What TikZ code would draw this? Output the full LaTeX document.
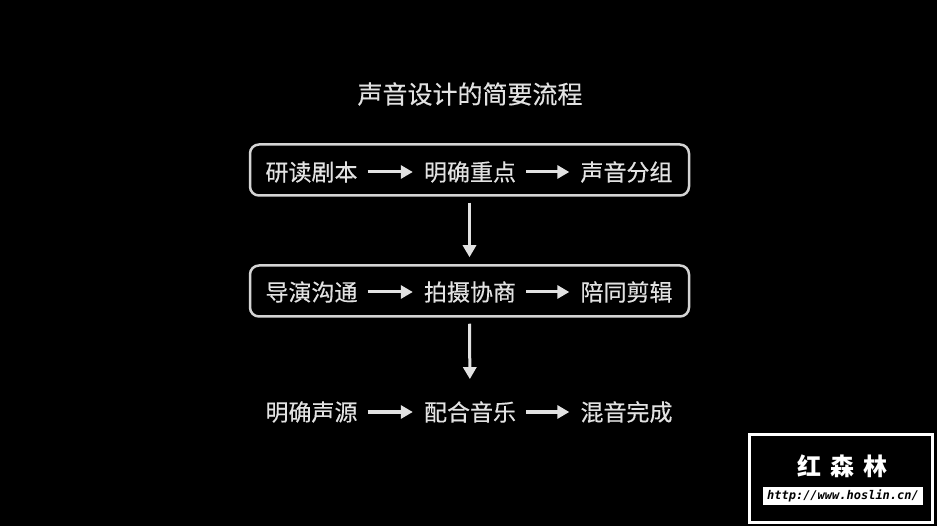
\documentclass[tikz,border=0pt]{standalone}
\usepackage{fontspec}
\setmainfont{Noto Sans CJK SC}[FakeBold=0.35]
\newfontfamily\brandfont{Noto Sans CJK SC}
\newfontfamily\urlfont{DejaVu Sans Mono}
\usetikzlibrary{arrows.meta}
\definecolor{fgc}{HTML}{E2E2E2}
\definecolor{boxc}{HTML}{D4D4D4}
\begin{document}
\begin{tikzpicture}[x=1pt,y=-1pt,
  txt/.style={text=fgc, font=\fontsize{23}{23}\selectfont, inner sep=0pt},
  ttl/.style={text=fgc, font=\fontsize{25}{25}\selectfont, inner sep=0pt},
  frame/.style={draw=boxc, line width=2.5pt, rounded corners=9pt, minimum width=439pt, minimum height=51pt, inner sep=0pt},
  arr/.style={draw=fgc, line width=3pt, -{Triangle[length=12pt,width=13pt]}},
  harr/.style={arr, shorten <=10pt, shorten >=11pt},
]
\fill[black] (0,0) rectangle (937,526);
\useasboundingbox (0,0) rectangle (937,526);

\node[ttl] (title) at (470,94) {声音设计的简要流程};

\node[frame] (b1) at (469.5,170) {};
\node[frame] (b2) at (469.5,291) {};

\node[txt] (a1) at (311.5,172) {研读剧本};
\node[txt] (a2) at (470,172) {明确重点};
\node[txt] (a3) at (626.5,172) {声音分组};
\draw[harr] (a1.east) -- (a2.west);
\draw[harr] (a2.east) -- (a3.west);

\node[txt] (c1) at (311.5,292) {导演沟通};
\node[txt] (c2) at (470,292) {拍摄协商};
\node[txt] (c3) at (626.5,292) {陪同剪辑};
\draw[harr] (c1.east) -- (c2.west);
\draw[harr] (c2.east) -- (c3.west);

\node[txt] (d1) at (311.5,412) {明确声源};
\node[txt] (d2) at (470,412) {配合音乐};
\node[txt] (d3) at (626.5,412) {混音完成};
\draw[harr] (d1.east) -- (d2.west);
\draw[harr] (d2.east) -- (d3.west);

\draw[arr, shorten <=6pt, shorten >=7pt] (b1.south) -- (b2.north);
\draw[arr, shorten <=6pt, shorten >=22pt] (b2.south) -- (d2.north);

\node[draw=white, fill=black, line width=3pt, minimum width=183pt, minimum height=88pt, inner sep=0pt] (logo) at (840.5,478) {};
\node[text=white, inner sep=0pt, font=\brandfont\fontsize{24}{24}\selectfont\bfseries] (brand) at (842,466) {红\hspace{9pt}森\hspace{9pt}林};
\node[fill=white, minimum width=160pt, minimum height=18pt, inner sep=0pt] (urlbox) at (843,496) {};
\node[text=black, inner sep=0pt, font=\urlfont\bfseries\itshape\fontsize{12}{12}\selectfont] (url) at (urlbox.center) {http://www.hoslin.cn/};
\end{tikzpicture}
\end{document}
